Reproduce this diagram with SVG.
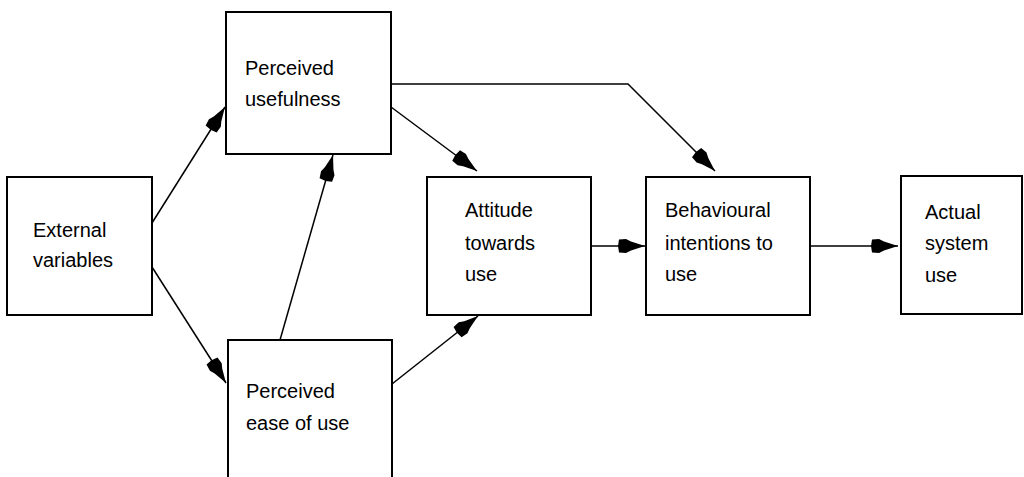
<svg xmlns="http://www.w3.org/2000/svg" width="1024" height="477" viewBox="0 0 1024 477">
<style>
.box{fill:#fff;stroke:#000;stroke-width:2}
.lbl{font-family:"Liberation Sans",Arial,sans-serif;font-size:20px;fill:#000}
.con{fill:none;stroke:#000;stroke-width:1.5}
</style>
<defs>
<marker id="ah" markerUnits="userSpaceOnUse" markerWidth="40" markerHeight="20" viewBox="-30 -10 32 20" refX="0" refY="0" orient="auto">
<path d="M0,0 L-14,-4.5 L-19,-7 L-26,-6.5 L-27,0 L-26,6.5 L-19,7 L-14,4.5 Z" fill="#000"/>
</marker>
</defs>
<rect width="1024" height="477" fill="#fff"/>
<g id="connectors">
<path class="con" d="M152,223 L225,107" marker-end="url(#ah)"/>
<path class="con" d="M152,267 L226,383" marker-end="url(#ah)"/>
<path class="con" d="M280,340 L333,155" marker-end="url(#ah)"/>
<path class="con" d="M391,107 L477,171" marker-end="url(#ah)"/>
<path class="con" d="M391,84 L628,84 L715,171" marker-end="url(#ah)"/>
<path class="con" d="M392,384 L478,316" marker-end="url(#ah)"/>
<path class="con" d="M591,246 L645,246" marker-end="url(#ah)"/>
<path class="con" d="M810,246 L898,246" marker-end="url(#ah)"/>
</g>
<g id="external">
<rect class="box" x="7" y="177" width="145" height="138"/>
<text class="lbl" x="33" y="237">External</text>
<text class="lbl" x="33" y="267">variables</text>
</g>
<g id="usefulness">
<rect class="box" x="226" y="12" width="165" height="142"/>
<text class="lbl" x="245" y="75">Perceived</text>
<text class="lbl" x="245" y="106">usefulness</text>
</g>
<g id="ease">
<rect class="box" x="228" y="340" width="164" height="145"/>
<text class="lbl" x="246" y="398">Perceived</text>
<text class="lbl" x="246" y="430">ease of use</text>
</g>
<g id="attitude">
<rect class="box" x="427" y="177" width="164" height="138"/>
<text class="lbl" x="465" y="217">Attitude</text>
<text class="lbl" x="465" y="250">towards</text>
<text class="lbl" x="465" y="281">use</text>
</g>
<g id="intentions">
<rect class="box" x="646" y="177" width="164" height="138"/>
<text class="lbl" x="665" y="217">Behavioural</text>
<text class="lbl" x="665" y="250">intentions to</text>
<text class="lbl" x="665" y="281">use</text>
</g>
<g id="actual">
<rect class="box" x="901" y="176" width="121" height="138"/>
<text class="lbl" x="925" y="219">Actual</text>
<text class="lbl" x="925" y="250">system</text>
<text class="lbl" x="925" y="282">use</text>
</g>
</svg>
